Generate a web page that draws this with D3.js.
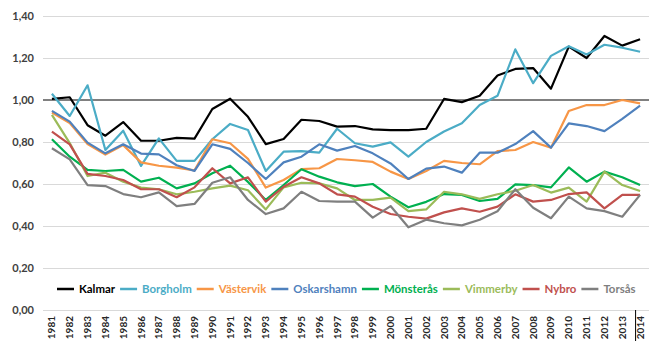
<!DOCTYPE html>
<html>
<head>
<meta charset="utf-8">
<script src="https://cdn.jsdelivr.net/npm/d3@7"></script>
<style>
  html, body { margin: 0; padding: 0; background: #fff; }
  svg { display: block; }
</style>
</head>
<body>
<svg id="chart" width="652" height="341"></svg>
<script>
// Years on the category axis
const years = d3.range(1981, 2015).map(String);

// Index values per municipality, 1981–2014
const kalmar     = [1.005,1.013,0.88,0.83,0.895,0.806,0.806,0.82,0.816,0.957,1.006,0.92,0.79,0.814,0.906,0.90,0.873,0.876,0.86,0.857,0.857,0.863,1.005,0.99,1.02,1.117,1.148,1.152,1.054,1.254,1.20,1.305,1.259,1.289];
const borgholm   = [1.03,0.924,1.07,0.762,0.854,0.686,0.817,0.71,0.71,0.813,0.886,0.857,0.662,0.754,0.757,0.749,0.863,0.794,0.778,0.798,0.73,0.80,0.85,0.889,0.976,1.02,1.241,1.08,1.21,1.256,1.217,1.263,1.249,1.23];
const vastervik  = [0.94,0.89,0.79,0.74,0.785,0.703,0.687,0.678,0.665,0.813,0.794,0.72,0.583,0.619,0.671,0.675,0.719,0.713,0.705,0.659,0.624,0.662,0.71,0.70,0.694,0.757,0.762,0.80,0.773,0.948,0.976,0.976,1.0,0.984];
const oskarshamn = [0.948,0.897,0.797,0.746,0.789,0.745,0.741,0.689,0.662,0.789,0.767,0.70,0.624,0.703,0.73,0.789,0.759,0.781,0.746,0.698,0.624,0.673,0.683,0.654,0.749,0.749,0.79,0.852,0.773,0.889,0.876,0.852,0.91,0.973];
const monsteras  = [0.813,0.73,0.667,0.662,0.667,0.611,0.63,0.579,0.603,0.651,0.687,0.61,0.524,0.595,0.67,0.635,0.608,0.59,0.60,0.54,0.489,0.515,0.552,0.548,0.519,0.529,0.598,0.595,0.584,0.679,0.611,0.659,0.632,0.595];
const vimmerby   = [0.929,0.795,0.638,0.654,0.611,0.583,0.575,0.551,0.563,0.579,0.592,0.57,0.479,0.584,0.606,0.603,0.579,0.524,0.524,0.535,0.471,0.479,0.563,0.551,0.529,0.551,0.568,0.595,0.559,0.583,0.516,0.659,0.595,0.567];
const nybro      = [0.849,0.789,0.648,0.638,0.619,0.575,0.575,0.537,0.584,0.675,0.603,0.632,0.516,0.587,0.632,0.603,0.551,0.54,0.492,0.457,0.444,0.435,0.465,0.484,0.468,0.492,0.551,0.516,0.524,0.552,0.56,0.484,0.548,0.548];
const torsas     = [0.77,0.717,0.595,0.59,0.552,0.537,0.56,0.495,0.505,0.606,0.632,0.524,0.457,0.484,0.563,0.519,0.516,0.516,0.44,0.495,0.394,0.43,0.413,0.403,0.43,0.47,0.575,0.487,0.437,0.54,0.484,0.471,0.444,0.548];

const seriesNames  = ["Kalmar","Borgholm","Västervik","Oskarshamn","Mönsterås","Vimmerby","Nybro","Torsås"];
const seriesValues = [kalmar, borgholm, vastervik, oskarshamn, monsteras, vimmerby, nybro, torsas];
const seriesColors = ["#000000","#4BACC6","#F79646","#4F81BD","#00B050","#9BBB59","#C0504D","#7F7F7F"];

// Y-axis ticks and the reference level
const yTicks = [0, 0.2, 0.4, 0.6, 0.8, 1.0, 1.2, 1.4];
const referenceLevel = 1.0;

const svg = d3.select("#chart");
const plot = { left: 43, right: 649, top: 16, bottom: 310 };
const font = "Lato, 'Open Sans', sans-serif";

const x = d3.scaleBand().domain(years).range([plot.left, plot.right]);
const xc = d => x(d) + x.bandwidth() / 2;
const y = d3.scaleLinear().domain([0, 1.4]).range([plot.bottom, plot.top]);

const fmt = v => d3.format(".2f")(v).replace(".", ",");

// Horizontal gridlines with labels
const yAxis = d3.axisLeft(y).tickValues(yTicks).tickFormat(fmt)
  .tickSize(-(plot.right - plot.left)).tickPadding(9);
const gy = svg.append("g").attr("transform", `translate(${plot.left},0)`).call(yAxis);
gy.select(".domain").remove();
gy.selectAll(".tick line").attr("stroke", "#D9D9D9").attr("stroke-width", 1);
gy.selectAll(".tick text")
  .attr("fill", "#404040")
  .style("font-family", font)
  .style("font-weight", "bold")
  .style("font-size", "11px");

// Reference line at 1,00
svg.append("line")
  .attr("x1", plot.left).attr("x2", plot.right)
  .attr("y1", y(referenceLevel)).attr("y2", y(referenceLevel))
  .attr("stroke", "#808080").attr("stroke-width", 2.2);

// Year labels along the bottom, rotated
const xAxis = d3.axisBottom(x).tickSize(0).tickPadding(0);
const gx = svg.append("g").attr("transform", `translate(0,${plot.bottom})`).call(xAxis);
gx.select(".domain").remove();
gx.selectAll(".tick text")
  .attr("transform", "rotate(-90)")
  .attr("x", -6).attr("y", 0).attr("dy", "0.35em")
  .attr("text-anchor", "end")
  .attr("fill", "#262626")
  .style("font-family", font)
  .style("font-weight", "bold")
  .style("font-size", "10px");

// Small marker beside the last year
svg.append("line")
  .attr("x1", xc("2014") - 4.5).attr("x2", xc("2014") - 4.5)
  .attr("y1", plot.bottom).attr("y2", 341)
  .attr("stroke", "#000").attr("stroke-width", 1);

// Series lines
const line = d3.line().x((d, i) => xc(years[i])).y(d => y(d));
svg.append("g").selectAll("path")
  .data(seriesValues)
  .join("path")
  .attr("d", line)
  .attr("fill", "none")
  .attr("stroke", (d, i) => seriesColors[i])
  .attr("stroke-width", 2.2)
  .attr("stroke-linejoin", "round");

// Legend: one row spanning the space between the swatch start and text end
const legend = svg.append("g");
const legendY = 289;
const legendLeft = 57, legendRight = 636;
const swatch = 17, gapA = 5, gapB = 5;
const textTarget = (legendRight - legendLeft) - seriesNames.length * (swatch + gapA) - (seriesNames.length - 1) * gapB;

// pick a font size so the texts fill the row
const probe = svg.append("text").style("font-family", font).style("font-weight", "bold").style("font-size", "12px");
const textTotal = d3.sum(seriesNames, n => probe.text(n).node().getComputedTextLength());
probe.remove();
const legendFontSize = Math.min(13, 12 * textTarget / textTotal);

let cursor = legendLeft;
seriesNames.forEach((name, i) => {
  const g = legend.append("g").attr("transform", `translate(${cursor},0)`);
  g.append("line").attr("x1", 0).attr("x2", swatch)
    .attr("y1", legendY).attr("y2", legendY)
    .attr("stroke", seriesColors[i]).attr("stroke-width", 2.5);
  const t = g.append("text")
    .attr("x", swatch + gapA).attr("y", legendY).attr("dy", "0.35em")
    .attr("fill", seriesColors[i])
    .style("font-family", font)
    .style("font-weight", "bold")
    .style("font-size", legendFontSize + "px")
    .text(name);
  cursor += swatch + gapA + t.node().getComputedTextLength() + gapB;
});
</script>
</body>
</html>
